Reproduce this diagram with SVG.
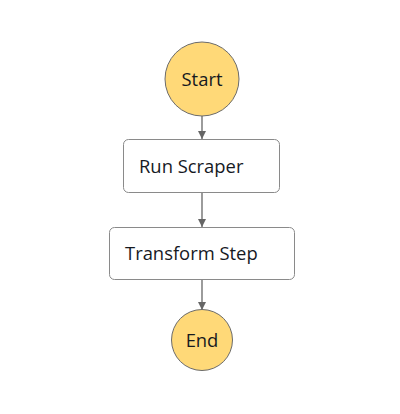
<svg xmlns="http://www.w3.org/2000/svg" width="400" height="414" viewBox="0 0 400 414">
<style>
.circ{fill:#ffd978;stroke:#6b6b6b;stroke-width:1}
.box{fill:#ffffff;stroke:#8a8a8a;stroke-width:1}
.lbl{font-family:"Open Sans",sans-serif;font-size:18.4px;fill:#16191f}
.edge{stroke:#666666;stroke-width:1.3;fill:none;marker-end:url(#arr)}
</style>
<defs>
<marker id="arr" viewBox="0 0 10 10" refX="10" refY="5" markerWidth="8" markerHeight="8" markerUnits="userSpaceOnUse" orient="auto">
<path d="M0,0 L10,5 L0,10 z" fill="#666666"/>
</marker>
</defs>
<rect width="400" height="414" fill="#ffffff"/>
<g id="connectors">
<line class="edge" x1="202" y1="116" x2="202" y2="139"/>
<line class="edge" x1="202" y1="193" x2="202" y2="227"/>
<line class="edge" x1="202" y1="279" x2="202" y2="310"/>
</g>
<g id="start">
<circle class="circ" cx="202" cy="79" r="37"/>
<text class="lbl" x="202" y="86" text-anchor="middle">Start</text>
</g>
<g id="run-scraper">
<rect class="box" x="123.5" y="139.5" width="156" height="53" rx="5"/>
<text class="lbl" x="139" y="173">Run Scraper</text>
</g>
<g id="transform-step">
<rect class="box" x="109.5" y="227.5" width="185" height="52" rx="5"/>
<text class="lbl" x="125" y="260">Transform Step</text>
</g>
<g id="end">
<circle class="circ" cx="202" cy="340" r="30.5"/>
<text class="lbl" x="202" y="347" text-anchor="middle">End</text>
</g>
</svg>
